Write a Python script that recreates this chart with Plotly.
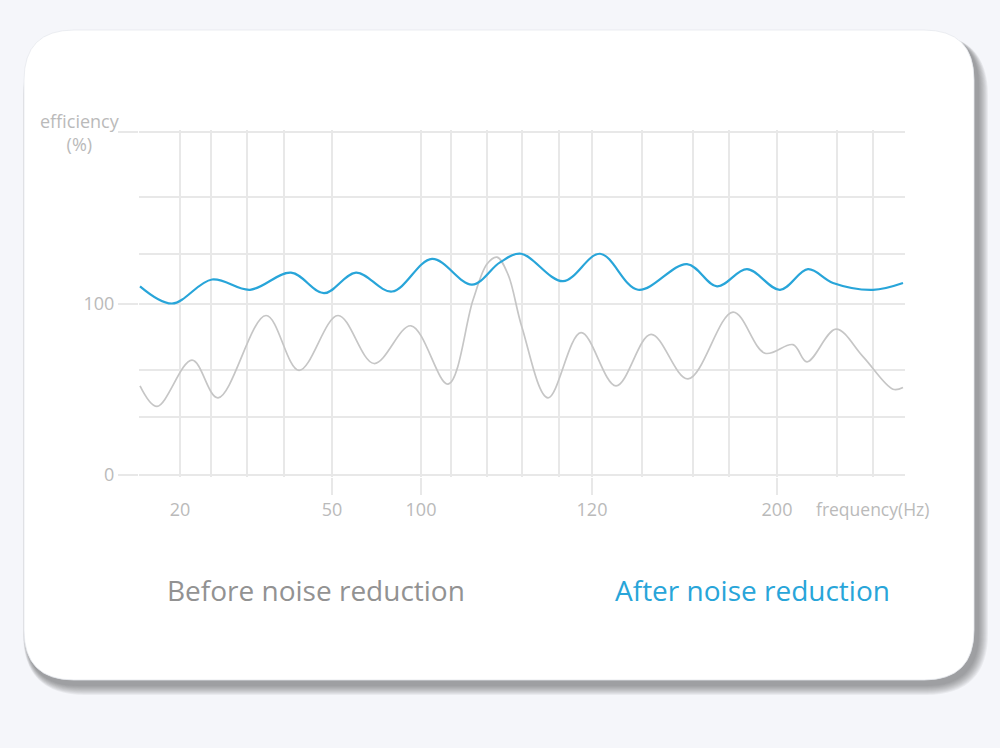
import plotly.graph_objects as go

W, H = 1000, 748

# x positions are measured along the frequency axis (0 = left edge, 764 = right edge)
grid_x = [0, 40, 71, 107, 144, 192, 281, 311, 347, 382, 419, 452, 502, 553, 589, 637, 697, 733, 764]
grid_y = [0, 34, 61, 100, 129, 162, 200]

tick_pos = [192, 281, 452, 637]
tick_text = ["50", "100", "120", "200"]
first_pos = [40]
first_text = ["20"]

before_x = [0, 17, 52, 78, 126, 159, 198, 234, 271, 308, 333, 347, 357, 368, 382, 408, 441, 476, 511, 548, 593, 625, 653, 667, 696, 723, 753, 763]
before_y = [52, 40, 67, 45, 93, 61, 93, 65, 87, 53, 102, 123, 127, 117, 86, 45, 83, 52, 82, 56, 95, 71, 76, 66, 85, 69, 50, 51]

after_x = [0, 32, 72, 110, 151, 184, 216, 252, 292, 332, 360, 381, 423, 460, 498, 547, 577, 607, 640, 668, 693, 733, 763]
after_y = [110, 100, 114, 108, 118, 106, 118, 107, 126, 111, 124, 129, 113, 129, 108, 123, 110, 120, 108, 120, 112, 108, 112]

BLUE = "#28a5d9"
GREY_LINE = "#c6c6c6"
GRID = "#e8e8e8"
AXIS_TEXT = "#bababa"
FONT = "Open Sans"


def px(x):
    return x / W


def py(y):
    return 1 - y / H


def rounded_rect(x0, y0, x1, y1, r):
    # pixel box -> svg path in paper coordinates
    p = lambda x, y: f"{px(x):.5f},{py(y):.5f}"
    return (
        f"M{p(x0 + r, y0)} L{p(x1 - r, y0)} Q{p(x1, y0)} {p(x1, y0 + r)} "
        f"L{p(x1, y1 - r)} Q{p(x1, y1)} {p(x1 - r, y1)} "
        f"L{p(x0 + r, y1)} Q{p(x0, y1)} {p(x0, y1 - r)} "
        f"L{p(x0, y0 + r)} Q{p(x0, y0)} {p(x0 + r, y0)} Z"
    )


card = (24, 30, 974, 680)
shapes = []
# soft shadow, bottom-right
for i in range(10):
    grow = 10 - i
    shapes.append(dict(
        type="path", xref="paper", yref="paper", layer="below",
        path=rounded_rect(card[0] + 2 - grow * 0.3, card[1] + 4, card[2] + 4 + grow, card[3] + 5 + grow, 52 + grow),
        fillcolor="rgba(90,90,90,0.07)", line=dict(width=0),
    ))
shapes.append(dict(
    type="path", xref="paper", yref="paper", layer="below",
    path=rounded_rect(*card, 50),
    fillcolor="white", line=dict(color="rgba(230,232,238,0.8)", width=1),
))

fig = go.Figure()
fig.add_trace(go.Scatter(
    x=before_x, y=before_y, mode="lines",
    line=dict(color=GREY_LINE, width=1.7, shape="spline", smoothing=1.0),
    hoverinfo="skip", showlegend=False,
))
fig.add_trace(go.Scatter(
    x=after_x, y=after_y, mode="lines",
    line=dict(color=BLUE, width=2.2, shape="spline", smoothing=1.0),
    hoverinfo="skip", showlegend=False,
))

# ranges padded a little so the edge gridlines are drawn
dom_x = [px(139), px(905)]
xr = [-1, 765]
dom_y = [py(476.7), py(130.3)]
yr = [-1, 201]

axis_font = dict(family=FONT, size=18, color=AXIS_TEXT)

fig.update_layout(
    width=W, height=H, autosize=False,
    margin=dict(l=0, r=0, t=0, b=0),
    paper_bgcolor="#f5f6fa",
    plot_bgcolor="rgba(0,0,0,0)",
    shapes=shapes,
    xaxis=dict(
        domain=dom_x, range=xr, tickmode="array", tickvals=grid_x,
        showticklabels=False, showgrid=True, gridcolor=GRID, gridwidth=1.5,
        zeroline=False, showline=False, ticks="", automargin=False, fixedrange=True,
    ),
    yaxis=dict(
        domain=dom_y, range=yr, tickmode="array", tickvals=grid_y,
        showticklabels=False, showgrid=True, gridcolor=GRID, gridwidth=1.5,
        zeroline=False, showline=False, ticks="", automargin=False, fixedrange=True,
    ),
    xaxis2=dict(
        domain=dom_x, range=xr, overlaying="x", anchor="y", side="bottom",
        tickmode="array", tickvals=tick_pos, ticktext=tick_text,
        ticks="outside", ticklen=17, tickwidth=1.5, tickcolor=GRID,
        tickfont=axis_font, showgrid=False, zeroline=False, showline=False,
        automargin=False, fixedrange=True,
    ),
    xaxis3=dict(
        domain=dom_x, range=xr, overlaying="x", anchor="y", side="bottom",
        tickmode="array", tickvals=first_pos, ticktext=first_text,
        ticks="outside", ticklen=17, tickcolor="rgba(0,0,0,0)",
        tickfont=axis_font, showgrid=False, zeroline=False, showline=False,
        automargin=False, fixedrange=True,
    ),
    yaxis2=dict(
        domain=dom_y, range=yr, overlaying="y", anchor="x", side="left",
        tickmode="array", tickvals=[0, 100, 200], ticktext=["0", "100", ""],
        ticks="outside", ticklen=20, tickwidth=1.5, tickcolor=GRID,
        tickfont=axis_font, showgrid=False, zeroline=False, showline=False,
        automargin=False, fixedrange=True,
    ),
    annotations=[
        dict(text="efficiency<br>(%)", xref="paper", yref="paper",
             x=px(80), y=py(132), xanchor="center", yanchor="middle",
             showarrow=False, align="center",
             font=dict(family=FONT, size=18, color=AXIS_TEXT)),
        dict(text="frequency(Hz)", xref="paper", yref="paper",
             x=px(872), y=py(509), xanchor="center", yanchor="middle",
             showarrow=False, font=dict(family=FONT, size=17.5, color=AXIS_TEXT)),
        dict(text="Before noise reduction", xref="paper", yref="paper",
             x=px(316), y=py(590), xanchor="center", yanchor="middle",
             showarrow=False, font=dict(family=FONT, size=28, color="#929292")),
        dict(text="After noise reduction", xref="paper", yref="paper",
             x=px(752), y=py(590), xanchor="center", yanchor="middle",
             showarrow=False, font=dict(family=FONT, size=28, color=BLUE)),
    ],
)

# tick-label axes need a (dummy) trace to be drawn
fig.add_trace(go.Scatter(x=[None], y=[None], xaxis="x2", yaxis="y2", showlegend=False, hoverinfo="skip"))
fig.add_trace(go.Scatter(x=[None], y=[None], xaxis="x3", yaxis="y", showlegend=False, hoverinfo="skip"))

fig.write_html(
    "out.html",
    config=dict(displayModeBar=False),
    post_script="document.body.style.margin='0';document.body.style.background='#f5f6fa';",
)
